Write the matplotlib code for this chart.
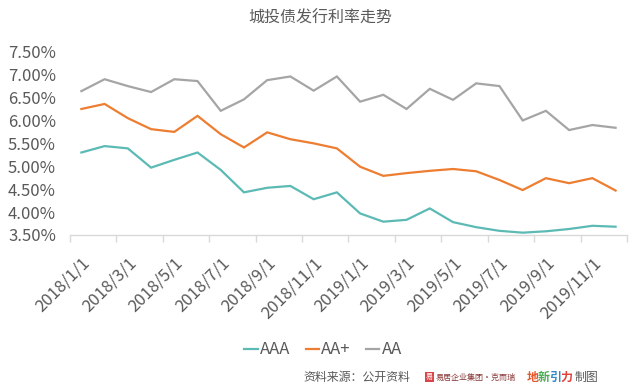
import matplotlib
matplotlib.use("Agg")
import matplotlib.pyplot as plt
from matplotlib.ticker import FuncFormatter, FixedLocator

plt.rcParams['font.family'] = ['Noto Sans CJK SC', 'DejaVu Sans']

title = "城投债发行利率走势"
months = ["2018/1/1", "2018/2/1", "2018/3/1", "2018/4/1", "2018/5/1", "2018/6/1",
          "2018/7/1", "2018/8/1", "2018/9/1", "2018/10/1", "2018/11/1", "2018/12/1",
          "2019/1/1", "2019/2/1", "2019/3/1", "2019/4/1", "2019/5/1", "2019/6/1",
          "2019/7/1", "2019/8/1", "2019/9/1", "2019/10/1", "2019/11/1", "2019/12/1"]
aaa = [5.30, 5.44, 5.39, 4.97, 5.14, 5.30, 4.92, 4.43, 4.53, 4.57, 4.28, 4.43,
       3.97, 3.79, 3.83, 4.08, 3.78, 3.67, 3.59, 3.55, 3.58, 3.63, 3.70, 3.68]
aa_plus = [6.25, 6.36, 6.05, 5.81, 5.75, 6.10, 5.70, 5.41, 5.74, 5.59, 5.50, 5.39,
           4.99, 4.79, 4.85, 4.90, 4.94, 4.89, 4.70, 4.48, 4.74, 4.63, 4.74, 4.47]
aa = [6.64, 6.90, 6.75, 6.62, 6.90, 6.86, 6.21, 6.46, 6.88, 6.96, 6.65, 6.96,
      6.41, 6.56, 6.25, 6.69, 6.45, 6.81, 6.75, 6.00, 6.21, 5.79, 5.90, 5.84]
series_names = ["AAA", "AA+", "AA"]
colors = ["#5CBAB5", "#ED7D31", "#A5A5A5"]
y_ticks = [3.5, 4.0, 4.5, 5.0, 5.5, 6.0, 6.5, 7.0, 7.5]
source_text = "资料来源：公开资料"

text_color = "#595959"

fig = plt.figure(figsize=(6.4, 3.89), dpi=100)
ax = fig.add_axes([0.109, 0.396, 0.871, 0.471])

x = list(range(len(months)))
for vals, name, c in zip([aaa, aa_plus, aa], series_names, colors):
    ax.plot(x, vals, color=c, lw=1.6, label=name, solid_joinstyle='miter')

ax.set_xlim(-0.5, len(months) - 0.5)
ax.set_ylim(y_ticks[0], y_ticks[-1])
ax.set_yticks(y_ticks)
ax.yaxis.set_major_formatter(FuncFormatter(lambda v, p: f"{v:.2f}%"))
ax.tick_params(axis='y', length=0, pad=10, labelsize=12, labelcolor=text_color)

ax.set_xticks(x[::2])
ax.set_xticklabels(months[::2], rotation=45, ha='right', va='top',
                   rotation_mode='anchor', fontsize=12, color=text_color)
ax.tick_params(axis='x', which='major', length=0, pad=14)
ax.xaxis.set_minor_locator(FixedLocator([i - 0.5 for i in range(0, len(months) + 1, 2)]))
ax.tick_params(axis='x', which='minor', length=5, color="#D9D9D9", width=1)

for s in ['top', 'right', 'left']:
    ax.spines[s].set_visible(False)
ax.spines['bottom'].set_color("#D9D9D9")
ax.spines['bottom'].set_linewidth(1)

fig.text(0.5, 1 - 18 / 389, title, ha='center', va='center', fontsize=11.5, color=text_color)

leg = fig.legend(loc='center', bbox_to_anchor=(0.505, 1 - 350 / 389), ncol=3, frameon=False,
                 handlelength=0.8, handletextpad=0.15, columnspacing=0.9,
                 prop={'size': 12})
for t in leg.get_texts():
    t.set_color(text_color)

ys = 1 - 377 / 389
fig.text(303 / 640, ys, source_text, ha='left', va='center', fontsize=8.6, color=text_color)
fig.text(426 / 640, ys, "易", ha='left', va='center', fontsize=5, color="white",
         bbox=dict(boxstyle='square,pad=0.1', fc="#D9464A", ec='none'))
fig.text(436 / 640, ys, "易居企业集团·克而瑞", ha='left', va='center', fontsize=5.8, color="#8B3A3A")
logo_chars = ["地", "新", "引", "力"]
logo_cols = ["#E8542A", "#4DAA57", "#2E8BC9", "#E2423A"]
for i, (ch, cc) in enumerate(zip(logo_chars, logo_cols)):
    fig.text((527 + i * 11) / 640, ys, ch, ha='left', va='center', fontsize=8.6,
             color=cc, fontweight='bold')
fig.text(575 / 640, ys, "制图", ha='left', va='center', fontsize=8.6, color=text_color)

fig.savefig("out.png", dpi=100)
